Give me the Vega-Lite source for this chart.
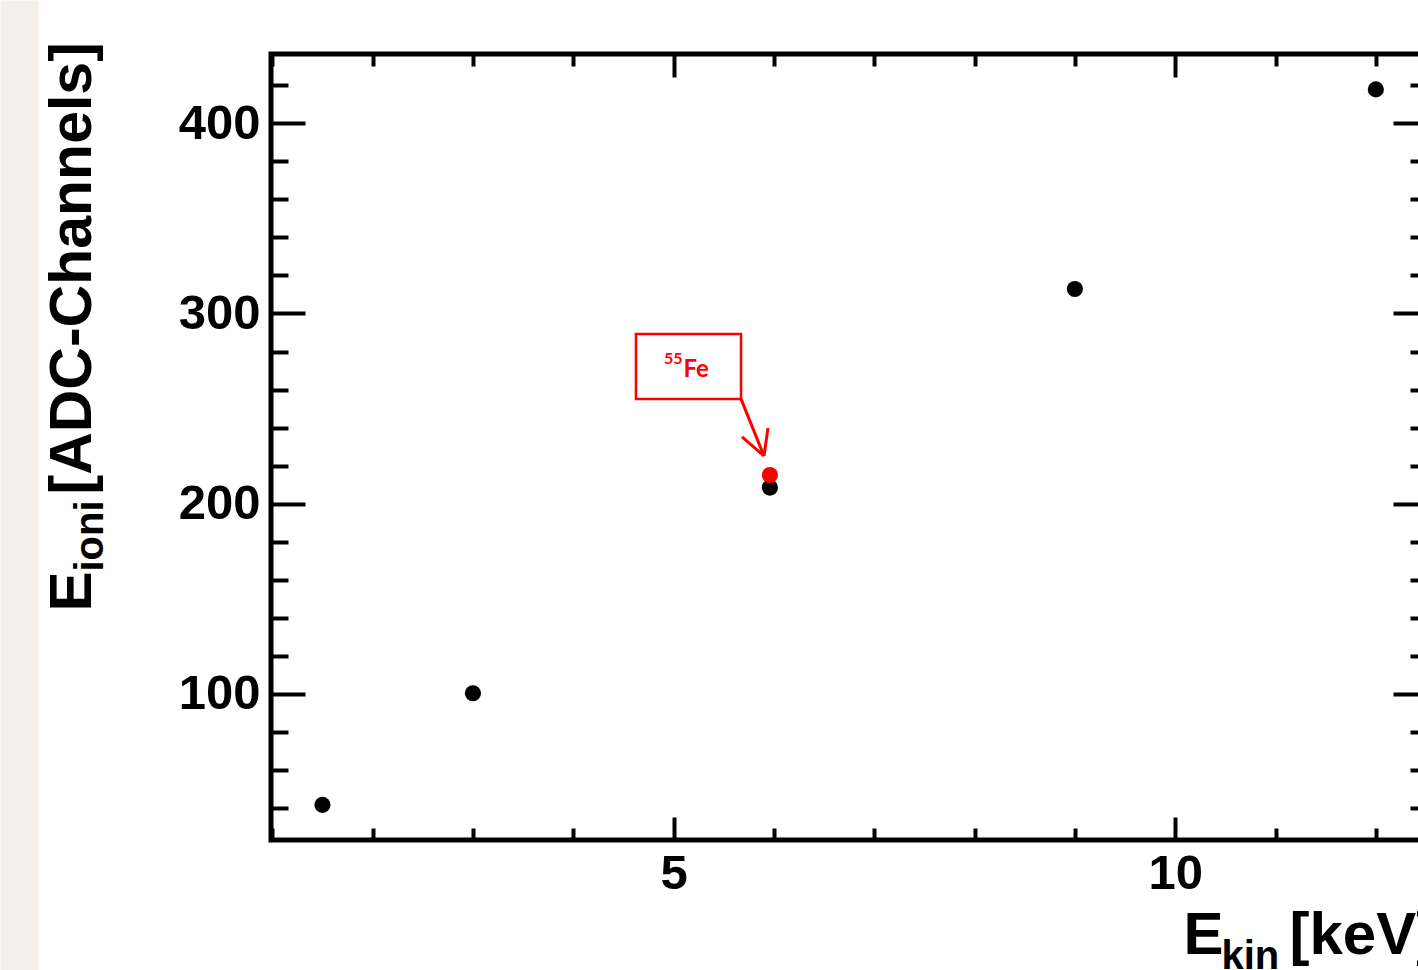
{
  "$schema": "https://vega.github.io/schema/vega-lite/v6.json",
  "width": 1156,
  "height": 786,
  "autosize": {"type": "none"},
  "padding": {"left": 271, "top": 54, "right": 0, "bottom": 130},
  "background": "white",
  "config": {
    "view": {"stroke": "black", "strokeWidth": 5},
    "axis": {
      "domain": false, "grid": false, "tickColor": "black", "tickWidth": 4,
      "labelFont": "Liberation Sans", "labelFontWeight": "bold", "labelColor": "black",
      "titleFont": "Liberation Sans", "titleFontWeight": "bold", "titleColor": "black",
      "labelFlush": false, "labelOverlap": false
    }
  },
  "data": {
    "values": [
      {"E_kin": 1.5, "E_ioni": 41.7, "source": "calibration"},
      {"E_kin": 3.0, "E_ioni": 100.4, "source": "calibration"},
      {"E_kin": 5.96, "E_ioni": 208.5, "source": "calibration"},
      {"E_kin": 9.0, "E_ioni": 312.9, "source": "calibration"},
      {"E_kin": 12.0, "E_ioni": 417.8, "source": "calibration"},
      {"E_kin": 5.96, "E_ioni": 215.1, "source": "55Fe"}
    ]
  },
  "resolve": {"axis": {"x": "independent", "y": "independent"}},
  "layer": [
    {
      "mark": {"type": "point", "opacity": 0},
      "encoding": {
        "x": {"field": "E_kin", "type": "quantitative",
          "axis": {"orient": "top", "offset": 54, "values": [0.987], "tickOffset": -252, "tickSize": -970, "tickWidth": 38, "tickColor": "#f2f0e9", "labels": false, "title": null}},
        "y": {"field": "E_ioni", "type": "quantitative", "axis": null}
      }
    },
    {
      "mark": {"type": "point", "filled": true, "opacity": 1, "size": 260, "strokeWidth": 0},
      "encoding": {
        "x": {"field": "E_kin", "type": "quantitative",
          "scale": {"domain": [0.987, 12.51], "nice": false, "zero": false},
          "axis": {"orient": "bottom", "values": [5, 10], "tickSize": -23, "labelFontSize": 49, "labelPadding": 32, "format": "d",
            "title": "E", "titleFontSize": 60, "titleX": 912, "titleY": 113, "titleAlign": "left", "titleBaseline": "alphabetic", "titleAngle": 0}},
        "y": {"field": "E_ioni", "type": "quantitative",
          "scale": {"domain": [23.25, 436.4], "nice": false, "zero": false},
          "axis": {"orient": "left", "values": [100, 200, 300, 400], "tickSize": -34, "labelFontSize": 49, "labelPadding": 45, "format": "d",
            "title": "E", "titleFontSize": 60, "titleX": -181, "titleY": 557, "titleAlign": "left", "titleBaseline": "alphabetic", "titleAngle": 270}},
        "color": {"field": "source", "type": "nominal", "scale": {"domain": ["calibration", "55Fe"], "range": ["#000000", "#ff0000"]}, "legend": null}
      }
    },
    {
      "mark": {"type": "point", "opacity": 0},
      "encoding": {
        "x": {"field": "E_kin", "type": "quantitative",
          "axis": {"orient": "bottom", "values": [1, 2, 3, 4, 6, 7, 8, 9, 11, 12], "tickSize": -12, "labels": false,
            "title": "kin", "titleFontSize": 40, "titleX": 950, "titleY": 128, "titleAlign": "left", "titleBaseline": "alphabetic", "titleAngle": 0}},
        "y": {"field": "E_ioni", "type": "quantitative",
          "axis": {"orient": "left", "values": [40, 60, 80, 120, 140, 160, 180, 220, 240, 260, 280, 320, 340, 360, 380, 420], "tickSize": -17, "labels": false,
            "title": "ioni", "titleFontSize": 40, "titleX": -169, "titleY": 517, "titleAlign": "left", "titleBaseline": "alphabetic", "titleAngle": 270}}
      }
    },
    {
      "mark": {"type": "point", "opacity": 0},
      "encoding": {
        "x": {"field": "E_kin", "type": "quantitative",
          "axis": {"orient": "bottom", "ticks": false, "labels": false,
            "title": "[keV]", "titleFontSize": 60, "titleX": 1018, "titleY": 113, "titleAlign": "left", "titleBaseline": "alphabetic", "titleAngle": 0}},
        "y": {"field": "E_ioni", "type": "quantitative",
          "axis": {"orient": "left", "ticks": false, "labels": false,
            "title": "[ADC-Channels]", "titleFontSize": 59, "titleX": -181, "titleY": 440, "titleAlign": "left", "titleBaseline": "alphabetic", "titleAngle": 270}}
      }
    },
    {
      "mark": {"type": "point", "opacity": 0},
      "encoding": {
        "x": {"field": "E_kin", "type": "quantitative",
          "axis": {"orient": "top", "values": [5, 10], "tickSize": -23, "labels": false, "title": null}},
        "y": {"field": "E_ioni", "type": "quantitative",
          "axis": {"orient": "right", "values": [100, 200, 300, 400], "tickSize": -34, "labels": false, "title": null}}
      }
    },
    {
      "mark": {"type": "point", "opacity": 0},
      "encoding": {
        "x": {"field": "E_kin", "type": "quantitative",
          "axis": {"orient": "top", "values": [1, 2, 3, 4, 6, 7, 8, 9, 11, 12], "tickSize": -12, "labels": false, "title": null}},
        "y": {"field": "E_ioni", "type": "quantitative",
          "axis": {"orient": "right", "values": [40, 60, 80, 120, 140, 160, 180, 220, 240, 260, 280, 320, 340, 360, 380, 420], "tickSize": -17, "labels": false, "title": null}}
      }
    },
    {
      "data": {"values": [{}]},
      "mark": {"type": "rect", "filled": false, "stroke": "#ff0000", "strokeWidth": 2.5},
      "encoding": {
        "x": {"datum": 4.625, "type": "quantitative", "axis": null},
        "x2": {"datum": 5.672},
        "y": {"datum": 289.2, "type": "quantitative", "axis": null},
        "y2": {"datum": 255.1}
      }
    },
    {
      "data": {"values": [{}]},
      "mark": {"type": "rule", "color": "#ff0000", "strokeWidth": 3},
      "encoding": {
        "x": {"datum": 5.672, "type": "quantitative", "axis": null},
        "y": {"datum": 255.1, "type": "quantitative", "axis": null},
        "x2": {"datum": 5.901},
        "y2": {"datum": 225.1}
      }
    },
    {
      "data": {"values": [{}]},
      "mark": {"type": "rule", "color": "#ff0000", "strokeWidth": 3},
      "encoding": {
        "x": {"datum": 5.682, "type": "quantitative", "axis": null},
        "y": {"datum": 235.1, "type": "quantitative", "axis": null},
        "x2": {"datum": 5.901},
        "y2": {"datum": 225.1}
      }
    },
    {
      "data": {"values": [{}]},
      "mark": {"type": "rule", "color": "#ff0000", "strokeWidth": 3},
      "encoding": {
        "x": {"datum": 5.941, "type": "quantitative", "axis": null},
        "y": {"datum": 239.8, "type": "quantitative", "axis": null},
        "x2": {"datum": 5.901},
        "y2": {"datum": 225.1}
      }
    },
    {
      "data": {"values": [{}]},
      "mark": {"type": "text", "text": "Fe", "font": "Lato", "fontWeight": "bold", "fontSize": 24, "color": "#ff0000", "align": "left", "baseline": "alphabetic"},
      "encoding": {
        "x": {"datum": 5.1, "type": "quantitative", "axis": null},
        "y": {"datum": 266.6, "type": "quantitative", "axis": null}
      }
    },
    {
      "data": {"values": [{}]},
      "mark": {"type": "text", "text": "55", "font": "Lato", "fontWeight": "bold", "fontSize": 16, "color": "#ff0000", "align": "left", "baseline": "alphabetic"},
      "encoding": {
        "x": {"datum": 4.905, "type": "quantitative", "axis": null},
        "y": {"datum": 273.5, "type": "quantitative", "axis": null}
      }
    }
  ]
}
